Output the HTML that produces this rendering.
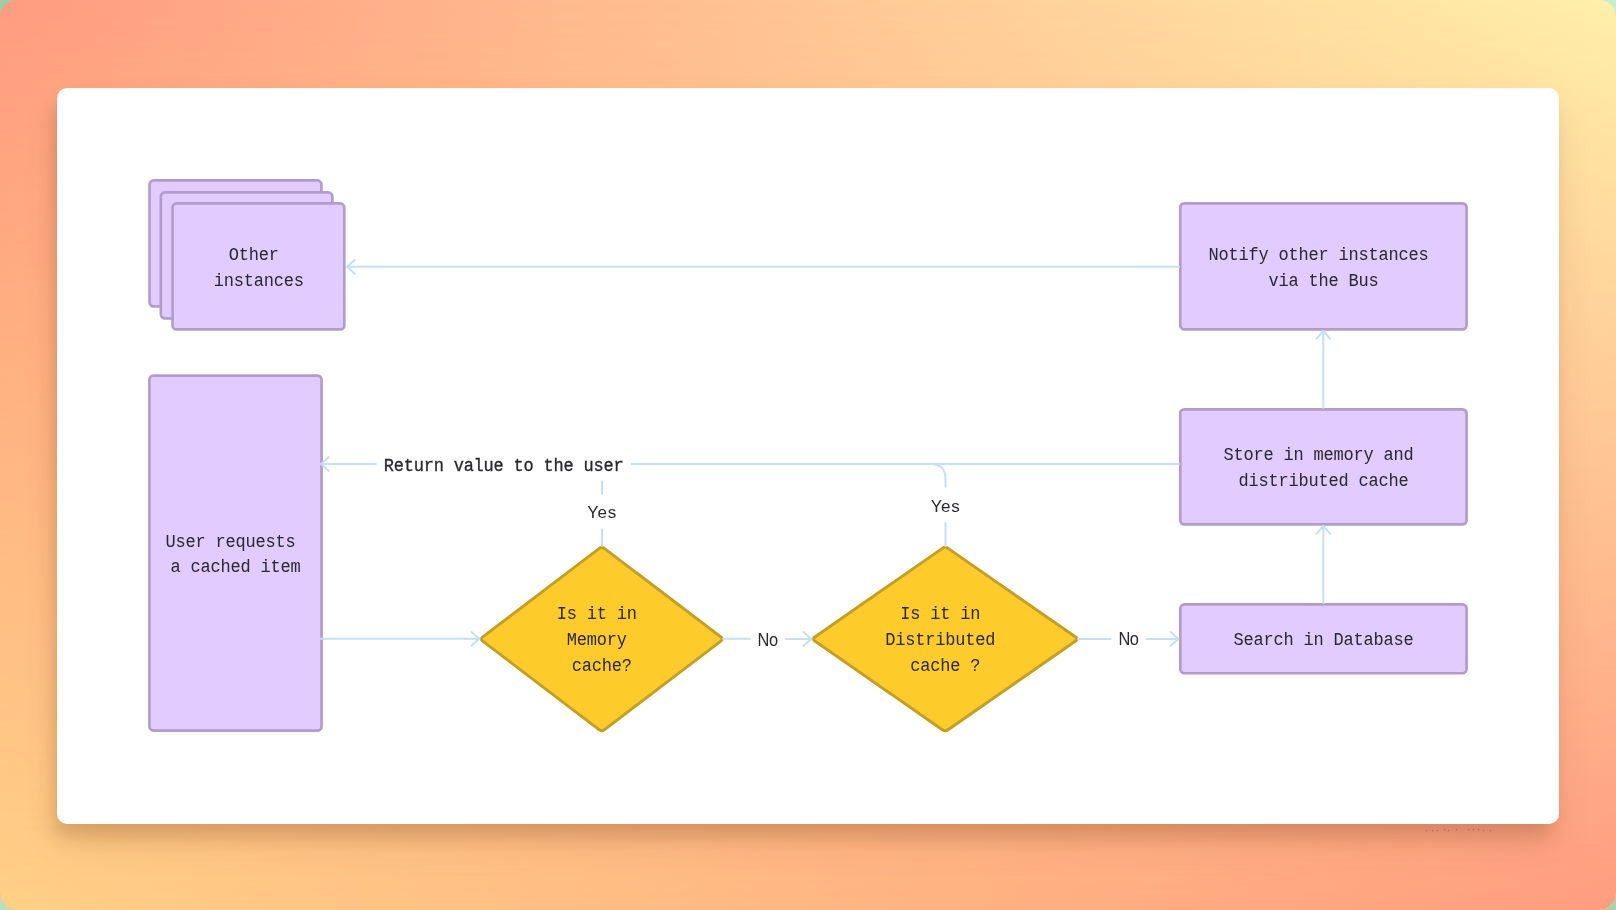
<!DOCTYPE html>
<html><head><meta charset="utf-8">
<style>
html,body{margin:0;padding:0;width:1616px;height:910px;overflow:hidden;background:#a2cea8;}
#bg{position:absolute;left:0;top:0;width:1616px;height:910px;border-radius:17px;overflow:hidden;
  background:linear-gradient(to right,#ff9c7f,#fff0aa);}
#bg2{position:absolute;left:0;top:0;width:1616px;height:910px;
  background:linear-gradient(to right,#ffd086,#ff9c7f);
  -webkit-mask-image:linear-gradient(to bottom,transparent,#000);mask-image:linear-gradient(to bottom,transparent,#000);}
#card{position:absolute;left:57px;top:88px;width:1502px;height:736px;background:#fff;border-radius:10px;
  box-shadow:-5px 15px 16px -2px rgba(100,40,10,0.17),0 20px 40px -4px rgba(100,40,10,0.12);}
svg{position:absolute;left:0;top:0;will-change:transform;}
.m{font-family:"Liberation Mono",monospace;font-size:17.0px;letter-spacing:-0.2px;fill:#2a292d;white-space:pre;}
.s{font-family:"Liberation Sans",sans-serif;font-size:17.0px;fill:#2a292d;}
.ln line,.ln path{stroke:#c3e0f7;stroke-width:2.0;stroke-linecap:round;stroke-linejoin:round;}
</style></head><body>
<div style="position:absolute;left:0;top:0;width:24px;height:24px;background:#a0cda5"></div>
<div style="position:absolute;right:0;top:0;width:24px;height:24px;background:#c4f0cc"></div>
<div style="position:absolute;left:0;bottom:0;width:24px;height:24px;background:#b5e2bd"></div>
<div style="position:absolute;right:0;bottom:0;width:24px;height:24px;background:#a6d3ab"></div>
<div id="bg"><div id="bg2"></div></div>
<div id="card"></div>
<svg width="1616" height="910" viewBox="0 0 1616 910">
<rect x="149.55" y="180.45" width="171.80" height="125.90" rx="4" fill="#e2cbfe" stroke="#b29dca" stroke-width="2.7"/>
<rect x="160.85" y="192.45" width="171.50" height="125.90" rx="4" fill="#e2cbfe" stroke="#b29dca" stroke-width="2.7"/>
<rect x="172.55" y="203.45" width="171.70" height="126.00" rx="4" fill="#e2cbfe" stroke="#b29dca" stroke-width="2.7"/>
<rect x="1180.25" y="203.35" width="286.30" height="126.00" rx="4" fill="#e2cbfe" stroke="#b29dca" stroke-width="2.7"/>
<rect x="1180.25" y="409.35" width="286.30" height="115.00" rx="4" fill="#e2cbfe" stroke="#b29dca" stroke-width="2.7"/>
<rect x="1180.35" y="604.45" width="286.20" height="68.80" rx="4" fill="#e2cbfe" stroke="#b29dca" stroke-width="2.7"/>
<rect x="149.45" y="375.55" width="172.10" height="355.00" rx="4" fill="#e2cbfe" stroke="#b29dca" stroke-width="2.7"/>
<path d="M599.01 548.56 Q601.80 546.44 604.59 548.56 L720.86 636.96 Q723.64 639.08 720.86 641.19 L604.59 729.59 Q601.80 731.71 599.01 729.59 L482.74 641.19 Q479.96 639.08 482.74 636.96 Z" fill="#fdcc2a" stroke="#c49f24" stroke-width="2.9" stroke-linejoin="round"/>
<path d="M942.33 548.35 Q945.20 546.35 948.07 548.35 L1075.61 637.05 Q1078.48 639.05 1075.61 641.05 L948.07 729.75 Q945.20 731.75 942.33 729.75 L814.79 641.05 Q811.92 639.05 814.79 637.05 Z" fill="#fdcc2a" stroke="#c49f24" stroke-width="2.9" stroke-linejoin="round"/>
<g class="ln">
<line x1="347" y1="266.8" x2="1179" y2="266.8"/>
<path d="M354.80 259.90 L347.00 266.80 L354.80 273.70" fill="none"/>
<line x1="321" y1="464" x2="375.7" y2="464"/>
<path d="M328.80 457.10 L321.00 464.00 L328.80 470.90" fill="none"/>
<line x1="631.7" y1="464" x2="931.5" y2="464"/>
<line x1="931.5" y1="464" x2="1179" y2="464"/>
<line x1="602" y1="481.6" x2="602" y2="493.7"/>
<line x1="602" y1="529.4" x2="602" y2="546"/>
<path d="M931 464 Q945.5 464 945.5 479 L945.5 486.8" fill="none"/>
<line x1="945.5" y1="523.1" x2="945.5" y2="546"/>
<line x1="321" y1="638.8" x2="479.3" y2="638.8"/>
<path d="M471.50 631.90 L479.30 638.80 L471.50 645.70" fill="none"/>
<line x1="723" y1="638.8" x2="749.7" y2="638.8"/>
<line x1="786.1" y1="638.9" x2="811.3" y2="638.9"/>
<path d="M803.50 632.00 L811.30 638.90 L803.50 645.80" fill="none"/>
<line x1="1078" y1="638.9" x2="1110.5" y2="638.9"/>
<line x1="1146.8" y1="638.9" x2="1178.4" y2="638.9"/>
<path d="M1170.60 632.00 L1178.40 638.90 L1170.60 645.80" fill="none"/>
<line x1="1323.3" y1="603" x2="1323.3" y2="526"/>
<path d="M1316.40 533.80 L1323.30 526.00 L1330.20 533.80" fill="none"/>
<line x1="1323.3" y1="408" x2="1323.3" y2="331"/>
<path d="M1316.40 338.80 L1323.30 331.00 L1330.20 338.80" fill="none"/>
</g>
<rect x="1425.9" y="830.0" width="1.2" height="1.2" fill="#a8623a" opacity="0.8"/>
<rect x="1432.0" y="830.0" width="1.2" height="1.2" fill="#a8623a" opacity="0.8"/>
<rect x="1436.9" y="830.0" width="1.2" height="1.2" fill="#a8623a" opacity="0.8"/>
<rect x="1444.0" y="829.0" width="1.2" height="1.2" fill="#a8623a" opacity="0.8"/>
<rect x="1447.9" y="830.0" width="1.2" height="1.2" fill="#a8623a" opacity="0.8"/>
<rect x="1455.9" y="829.0" width="1.2" height="1.2" fill="#a8623a" opacity="0.8"/>
<rect x="1468.0" y="829.0" width="1.2" height="1.2" fill="#a8623a" opacity="0.8"/>
<rect x="1472.9" y="829.0" width="1.2" height="1.2" fill="#a8623a" opacity="0.8"/>
<rect x="1477.9" y="829.0" width="1.2" height="1.2" fill="#a8623a" opacity="0.8"/>
<rect x="1483.0" y="830.0" width="1.2" height="1.2" fill="#a8623a" opacity="0.8"/>
<rect x="1489.9" y="830.0" width="1.2" height="1.2" fill="#a8623a" opacity="0.8"/>
<text x="228.70" y="260.10" class="m" transform="translate(0 260.10) scale(1 1.08) translate(0 -260.10)">Other </text>
<text x="213.70" y="285.80" class="m" transform="translate(0 285.80) scale(1 1.08) translate(0 -285.80)">instances</text>
<text x="1208.50" y="260.10" class="m" transform="translate(0 260.10) scale(1 1.08) translate(0 -260.10)">Notify other instances </text>
<text x="1268.50" y="285.80" class="m" transform="translate(0 285.80) scale(1 1.08) translate(0 -285.80)">via the Bus</text>
<text x="1223.50" y="460.50" class="m" transform="translate(0 460.50) scale(1 1.08) translate(0 -460.50)">Store in memory and </text>
<text x="1238.50" y="486.20" class="m" transform="translate(0 486.20) scale(1 1.08) translate(0 -486.20)">distributed cache</text>
<text x="1233.50" y="645.30" class="m" transform="translate(0 645.30) scale(1 1.08) translate(0 -645.30)">Search in Database</text>
<text x="165.60" y="546.90" class="m" transform="translate(0 546.90) scale(1 1.08) translate(0 -546.90)">User requests </text>
<text x="170.60" y="572.40" class="m" transform="translate(0 572.40) scale(1 1.08) translate(0 -572.40)">a cached item</text>
<text x="556.70" y="619.50" class="m" transform="translate(0 619.50) scale(1 1.08) translate(0 -619.50)">Is it in </text>
<text x="566.70" y="645.00" class="m" transform="translate(0 645.00) scale(1 1.08) translate(0 -645.00)">Memory </text>
<text x="571.70" y="671.20" class="m" transform="translate(0 671.20) scale(1 1.08) translate(0 -671.20)">cache?</text>
<text x="900.20" y="619.50" class="m" transform="translate(0 619.50) scale(1 1.08) translate(0 -619.50)">Is it in </text>
<text x="885.20" y="645.00" class="m" transform="translate(0 645.00) scale(1 1.08) translate(0 -645.00)">Distributed </text>
<text x="910.20" y="671.20" class="m" transform="translate(0 671.20) scale(1 1.08) translate(0 -671.20)">cache ?</text>
<text x="383.70" y="470.60" class="m" transform="translate(0 470.60) scale(1 1.09) translate(0 -470.60)" stroke="#2a292d" stroke-width="0.3">Return value to the user</text>
<text x="602.00" y="517.90" class="s" text-anchor="middle" style="letter-spacing:0.6px;font-size:17.0px">Yes</text>
<text x="945.50" y="511.90" class="s" text-anchor="middle" style="letter-spacing:0.6px;font-size:17.0px">Yes</text>
<text x="767.70" y="645.60" class="s" text-anchor="middle" style="letter-spacing:-0.4px;font-size:16.4px" transform="translate(0 645.60) scale(1 1.07) translate(0 -645.60)">No</text>
<text x="1128.50" y="645.50" class="s" text-anchor="middle" style="letter-spacing:-0.4px;font-size:16.4px" transform="translate(0 645.50) scale(1 1.07) translate(0 -645.50)">No</text>
</svg>
</body></html>
